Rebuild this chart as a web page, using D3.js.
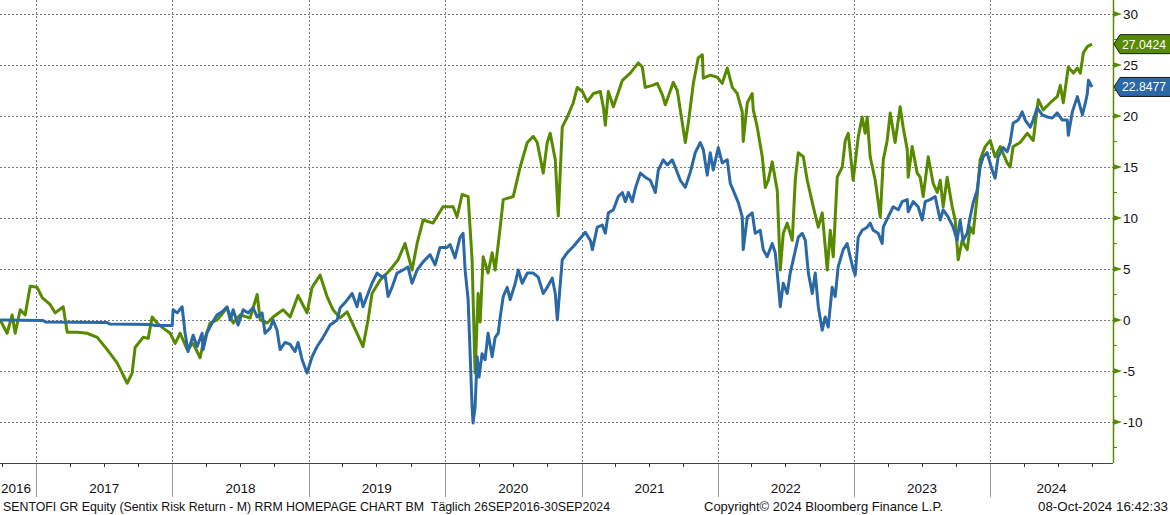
<!DOCTYPE html>
<html>
<head>
<meta charset="utf-8">
<script src="https://cdn.jsdelivr.net/npm/d3@7"></script>
<style>
  html, body { margin: 0; padding: 0; background: #fff; }
  svg { display: block; font-family: "Liberation Sans", Arial, sans-serif; }
</style>
</head>
<body>
<div id="diagram"></div>
<script>
// data: [decimal year, value]
const greenSeries = [
  [2016.736, 0.0], [2016.787, -1.3], [2016.824, 0.5], [2016.846, -1.3], [2016.883, 1.0], [2016.919, 0.5],
  [2016.956, 3.3], [2017.007, 3.2], [2017.044, 2.2], [2017.103, 1.5], [2017.140, 0.7], [2017.198, 1.3],
  [2017.228, -1.2], [2017.301, -1.2], [2017.374, -1.3], [2017.448, -1.7], [2017.521, -2.9], [2017.594, -4.2],
  [2017.668, -6.2], [2017.704, -5.2], [2017.726, -2.7], [2017.785, -1.7], [2017.822, -1.8], [2017.851, 0.3],
  [2017.888, -0.3], [2017.932, -0.8], [2017.983, -1.3], [2018.020, -2.3], [2018.057, -1.3], [2018.108, -2.9],
  [2018.152, -2.3], [2018.203, -3.7], [2018.225, -2.3], [2018.277, -0.3], [2018.328, 0.0], [2018.401, 1.2],
  [2018.446, -0.3], [2018.497, 0.5], [2018.570, 0.2], [2018.622, 2.5], [2018.644, 0.0], [2018.695, -0.3],
  [2018.739, 0.3], [2018.812, 1.0], [2018.864, 0.3], [2018.922, 2.4], [2018.988, 0.7], [2019.025, 3.2],
  [2019.084, 4.4], [2019.135, 2.3], [2019.179, 1.0], [2019.231, 0.2], [2019.282, 0.8], [2019.355, -1.3],
  [2019.399, -2.6], [2019.436, 0.0], [2019.465, 2.6], [2019.524, 3.9], [2019.597, 4.9], [2019.656, 5.9],
  [2019.707, 7.5], [2019.759, 4.9], [2019.796, 7.5], [2019.840, 9.8], [2019.913, 9.5], [2019.986, 11.1],
  [2020.060, 11.1], [2020.089, 10.1], [2020.126, 12.3], [2020.170, 12.1], [2020.199, 5.9], [2020.221, -5.2],
  [2020.243, 2.6], [2020.258, -0.2], [2020.280, 6.2], [2020.316, 4.6], [2020.346, 6.6], [2020.368, 4.9],
  [2020.405, 9.1], [2020.427, 11.8], [2020.500, 12.1], [2020.551, 15.0], [2020.603, 17.4], [2020.647, 18.0],
  [2020.676, 17.4], [2020.720, 14.4], [2020.749, 17.4], [2020.771, 18.3], [2020.808, 15.7], [2020.830, 10.2],
  [2020.859, 18.9], [2020.896, 19.9], [2020.940, 21.3], [2020.969, 22.8], [2021.006, 22.4], [2021.043, 21.4],
  [2021.087, 22.2], [2021.138, 22.4], [2021.160, 20.9], [2021.175, 19.1], [2021.197, 22.4], [2021.234, 20.9],
  [2021.300, 23.5], [2021.358, 24.2], [2021.417, 25.2], [2021.446, 24.8], [2021.468, 22.8], [2021.520, 23.0],
  [2021.556, 23.2], [2021.593, 22.1], [2021.615, 21.1], [2021.637, 21.9], [2021.674, 23.3], [2021.703, 22.5],
  [2021.725, 20.6], [2021.762, 17.4], [2021.784, 19.3], [2021.821, 23.2], [2021.857, 25.7], [2021.887, 26.0],
  [2021.894, 23.7], [2021.945, 24.0], [2021.997, 23.8], [2022.033, 23.2], [2022.070, 24.7], [2022.107, 22.8],
  [2022.143, 22.2], [2022.180, 20.4], [2022.187, 17.5], [2022.217, 21.3], [2022.253, 22.2], [2022.261, 20.6],
  [2022.290, 18.9], [2022.327, 16.0], [2022.349, 13.0], [2022.371, 13.7], [2022.400, 15.5], [2022.437, 12.7],
  [2022.459, 4.9], [2022.481, 8.5], [2022.510, 9.5], [2022.547, 7.8], [2022.569, 13.7], [2022.591, 16.4],
  [2022.628, 16.0], [2022.657, 13.7], [2022.701, 11.1], [2022.738, 9.1], [2022.767, 10.5], [2022.804, 4.9],
  [2022.826, 8.8], [2022.848, 6.2], [2022.877, 14.0], [2022.914, 15.0], [2022.936, 17.6], [2022.958, 18.3],
  [2022.994, 13.7], [2023.031, 17.9], [2023.060, 19.9], [2023.082, 18.3], [2023.097, 19.9], [2023.119, 16.0],
  [2023.156, 13.7], [2023.193, 10.1], [2023.215, 15.7], [2023.244, 17.6], [2023.266, 20.3], [2023.302, 17.4],
  [2023.339, 20.9], [2023.361, 18.9], [2023.391, 16.7], [2023.398, 14.0], [2023.427, 17.0], [2023.464, 14.4],
  [2023.486, 14.0], [2023.508, 12.1], [2023.545, 16.0], [2023.581, 13.4], [2023.611, 12.5], [2023.633, 13.7],
  [2023.655, 11.1], [2023.684, 14.0], [2023.721, 11.1], [2023.743, 9.8], [2023.765, 5.9], [2023.794, 7.8],
  [2023.831, 6.9], [2023.853, 9.1], [2023.875, 8.5], [2023.904, 12.1], [2023.926, 15.7], [2023.963, 17.0],
  [2024.000, 17.6], [2024.036, 16.0], [2024.073, 17.0], [2024.124, 15.4], [2024.146, 15.0], [2024.168, 17.0],
  [2024.219, 17.4], [2024.271, 18.3], [2024.315, 17.6], [2024.352, 21.6], [2024.388, 20.6], [2024.440, 21.3],
  [2024.491, 21.9], [2024.513, 23.0], [2024.535, 21.3], [2024.572, 24.8], [2024.609, 24.2], [2024.638, 24.7],
  [2024.660, 24.2], [2024.682, 26.2], [2024.711, 26.8], [2024.745, 27.0424]
];

const blueSeries = [
  [2016.736, 0.0], [2017.050, -0.05], [2017.070, -0.2], [2017.520, -0.25], [2017.540, -0.4], [2017.850, -0.45],
  [2017.870, -0.55], [2017.998, -0.55], [2018.005, 1.0], [2018.035, 0.7], [2018.071, 1.3], [2018.093, -1.3],
  [2018.115, -3.1], [2018.152, -1.5], [2018.181, -2.6], [2018.218, -1.3], [2018.225, -2.9], [2018.255, -1.2],
  [2018.291, -0.3], [2018.328, 0.5], [2018.365, 0.8], [2018.401, 1.3], [2018.424, 0.0], [2018.446, 1.0],
  [2018.482, -0.5], [2018.519, 1.0], [2018.556, 0.7], [2018.592, 1.2], [2018.622, 0.3], [2018.658, 0.7],
  [2018.680, -1.3], [2018.717, -0.8], [2018.739, 0.0], [2018.768, -1.0], [2018.790, -2.9], [2018.827, -2.2],
  [2018.864, -2.4], [2018.900, -3.1], [2018.922, -2.2], [2018.952, -3.9], [2018.988, -5.2], [2019.025, -3.6],
  [2019.062, -2.6], [2019.106, -1.7], [2019.157, -0.5], [2019.209, 0.0], [2019.231, 1.2], [2019.267, 1.7],
  [2019.319, 2.6], [2019.355, 1.3], [2019.377, 2.6], [2019.399, 1.3], [2019.436, 2.6], [2019.465, 3.6],
  [2019.502, 4.6], [2019.539, 4.2], [2019.561, 4.4], [2019.583, 2.3], [2019.612, 3.2], [2019.649, 4.6],
  [2019.693, 4.9], [2019.729, 5.2], [2019.759, 3.6], [2019.796, 4.9], [2019.840, 5.7], [2019.891, 6.4],
  [2019.928, 5.4], [2019.964, 7.1], [2020.016, 7.1], [2020.038, 7.4], [2020.074, 6.1], [2020.111, 8.1],
  [2020.133, 8.5], [2020.148, 4.9], [2020.170, 2.0], [2020.199, -8.5], [2020.206, -10.1], [2020.221, -8.5],
  [2020.236, -3.6], [2020.250, -5.6], [2020.272, -3.3], [2020.294, -3.9], [2020.316, -1.3], [2020.346, -3.6],
  [2020.368, -1.7], [2020.390, -1.3], [2020.405, 0.3], [2020.427, 2.3], [2020.456, 3.2], [2020.478, 2.0],
  [2020.515, 3.6], [2020.537, 4.9], [2020.566, 3.6], [2020.603, 4.6], [2020.647, 4.6], [2020.683, 4.2],
  [2020.720, 2.6], [2020.749, 3.2], [2020.786, 4.1], [2020.808, 2.6], [2020.823, 0.0], [2020.859, 5.9],
  [2020.896, 6.6], [2020.940, 7.2], [2020.977, 7.8], [2021.028, 8.6], [2021.065, 7.8], [2021.080, 6.9],
  [2021.116, 9.1], [2021.153, 9.3], [2021.175, 8.5], [2021.197, 10.5], [2021.234, 10.8], [2021.270, 12.1],
  [2021.300, 12.5], [2021.322, 11.6], [2021.344, 12.5], [2021.373, 11.6], [2021.395, 12.9], [2021.432, 14.4],
  [2021.468, 14.0], [2021.505, 13.7], [2021.542, 12.5], [2021.564, 14.7], [2021.600, 15.7], [2021.630, 15.2],
  [2021.666, 15.7], [2021.688, 15.0], [2021.725, 13.7], [2021.762, 13.0], [2021.799, 14.5], [2021.835, 16.4],
  [2021.872, 17.4], [2021.894, 16.7], [2021.923, 14.2], [2021.945, 16.4], [2021.967, 14.7], [2022.004, 16.9],
  [2022.033, 15.4], [2022.070, 15.7], [2022.092, 13.4], [2022.114, 12.7], [2022.151, 11.5], [2022.180, 10.1],
  [2022.187, 6.9], [2022.217, 10.1], [2022.253, 10.5], [2022.275, 8.5], [2022.312, 8.8], [2022.334, 6.9],
  [2022.363, 6.2], [2022.400, 7.5], [2022.422, 6.6], [2022.437, 4.6], [2022.459, 1.3], [2022.481, 3.6],
  [2022.510, 2.6], [2022.532, 4.6], [2022.554, 5.9], [2022.591, 8.1], [2022.620, 8.5], [2022.643, 7.8],
  [2022.665, 4.6], [2022.694, 2.6], [2022.716, 4.6], [2022.738, 1.3], [2022.767, -1.0], [2022.789, 0.3],
  [2022.811, -0.7], [2022.840, 3.2], [2022.862, 2.3], [2022.884, 5.2], [2022.921, 6.9], [2022.950, 7.5],
  [2022.972, 6.2], [2022.994, 5.0], [2023.009, 4.4], [2023.031, 8.1], [2023.060, 8.8], [2023.097, 9.1],
  [2023.119, 9.5], [2023.141, 8.8], [2023.178, 8.5], [2023.207, 7.5], [2023.215, 9.1], [2023.251, 10.1],
  [2023.288, 11.1], [2023.325, 10.8], [2023.354, 11.6], [2023.391, 11.8], [2023.398, 10.6], [2023.435, 11.6],
  [2023.471, 11.1], [2023.501, 9.8], [2023.523, 11.6], [2023.559, 11.8], [2023.596, 12.1], [2023.633, 9.8],
  [2023.655, 10.8], [2023.691, 10.1], [2023.728, 9.1], [2023.757, 7.8], [2023.779, 9.8], [2023.801, 7.8],
  [2023.831, 8.5], [2023.853, 10.1], [2023.875, 11.5], [2023.904, 12.7], [2023.926, 15.0], [2023.948, 16.0],
  [2023.977, 16.4], [2024.014, 14.7], [2024.036, 13.9], [2024.058, 16.0], [2024.095, 16.9], [2024.124, 16.5],
  [2024.146, 17.4], [2024.168, 19.3], [2024.205, 19.6], [2024.234, 20.4], [2024.256, 19.6], [2024.293, 18.9],
  [2024.315, 19.6], [2024.344, 20.8], [2024.381, 20.1], [2024.418, 19.9], [2024.454, 19.8], [2024.491, 20.3],
  [2024.528, 19.6], [2024.564, 19.6], [2024.572, 18.1], [2024.601, 20.4], [2024.638, 21.9], [2024.675, 20.1],
  [2024.697, 21.3], [2024.711, 22.2], [2024.719, 23.5], [2024.745, 22.8477]
];

const lastValues = [27.0424, 22.8477];
const yTickValues = [-10, -5, 0, 5, 10, 15, 20, 25, 30];
const yMinorValues = [-12.5, -7.5, -2.5, 2.5, 7.5, 12.5, 17.5, 22.5, 27.5];
const footerLabels = [
  'SENTOFI GR Equity (Sentix Risk Return - M) RRM HOMEPAGE CHART BM\u00a0\u00a0T\u00e4glich 26SEP2016-30SEP2024',
  'Copyright\u00a9 2024 Bloomberg Finance L.P.',
  '08-Oct-2024 16:42:33'
];

!(function () {
  'use strict';
  // - - - - - - - - - -
  let
    svg = undefined,
    xScale = undefined,
    yScale = undefined,
    toDate = undefined,
    setCanvas = undefined,
    setScales = undefined,
    setGrid = undefined,
    setXAxis = undefined,
    setYAxis = undefined,
    setLines = undefined,
    setValueTags = undefined,
    setFooter = undefined;

  const canvas = { width: 1170, height: 515, plotRight: 1113, plotBottom: 463 };
  const colors = { green: '#588a00', blue: '#2a68a6', grid: '#7a7a7a' };

  // decimal year -> Date
  toDate = function (t) {
    let y = Math.floor(t),
      a = Date.UTC(y, 0, 1),
      b = Date.UTC(y + 1, 0, 1);
    return new Date(a + (t - y) * (b - a));
  };

  setCanvas = function (contextSelector) {
    svg = d3.select(contextSelector)
      .append('svg')
      .attr('width', canvas.width)
      .attr('height', canvas.height);
  };

  setScales = function () {
    xScale = d3.scaleUtc()
      .domain([new Date(Date.UTC(2016, 8, 26)), new Date(Date.UTC(2024, 10, 25))])
      .range([0, canvas.plotRight]);
    yScale = d3.scaleLinear()
      .domain([-14.02, 31.37])
      .range([canvas.plotBottom, 0]);
  };

  setGrid = function () {
    let g = svg.append('g')
      .attr('stroke', colors.grid)
      .attr('stroke-dasharray', '2,2')
      .attr('stroke-width', 1);

    g.selectAll('line.h')
      .data(yTickValues)
      .join('line')
      .attr('class', 'h')
      .attr('x1', 0)
      .attr('x2', canvas.plotRight)
      .attr('y1', d => Math.round(yScale(d)) + 0.5)
      .attr('y2', d => Math.round(yScale(d)) + 0.5);

    g.selectAll('line.v')
      .data(xScale.ticks(d3.utcYear.every(1)))
      .join('line')
      .attr('class', 'v')
      .attr('x1', d => Math.round(xScale(d)) + 0.5)
      .attr('x2', d => Math.round(xScale(d)) + 0.5)
      .attr('y1', 0)
      .attr('y2', canvas.plotBottom);
  };

  setXAxis = function () {
    let g = svg.append('g'),
      years = xScale.ticks(d3.utcYear.every(1)),
      quarters = d3.utcMonth.every(3).range(xScale.domain()[0], xScale.domain()[1]),
      bounds = [xScale.domain()[0]].concat(years, [xScale.domain()[1]]);

    g.selectAll('line.q')
      .data(quarters)
      .join('line')
      .attr('class', 'q')
      .attr('x1', d => Math.round(xScale(d)) + 0.5)
      .attr('x2', d => Math.round(xScale(d)) + 0.5)
      .attr('y1', canvas.plotBottom)
      .attr('y2', canvas.plotBottom + 4)
      .attr('stroke', '#333');

    g.selectAll('line.y')
      .data(years)
      .join('line')
      .attr('class', 'y')
      .attr('x1', d => Math.round(xScale(d)) + 0.5)
      .attr('x2', d => Math.round(xScale(d)) + 0.5)
      .attr('y1', canvas.plotBottom)
      .attr('y2', canvas.plotBottom + 34)
      .attr('stroke', '#9a9a9a');

    g.append('line')
      .attr('x1', 0)
      .attr('x2', canvas.plotRight)
      .attr('y1', canvas.plotBottom + 0.5)
      .attr('y2', canvas.plotBottom + 0.5)
      .attr('stroke', '#444');

    // year labels centred in the visible part of each year
    g.selectAll('text')
      .data(bounds.slice(0, -1))
      .join('text')
      .attr('x', (d, i) => i === 0 ? 1 : (xScale(d) + Math.min(xScale(bounds[i + 1]), canvas.plotRight)) / 2)
      .attr('y', 493)
      .attr('text-anchor', (d, i) => i === 0 ? 'start' : 'middle')
      .attr('font-size', 13.5)
      .attr('fill', '#111')
      .text(d => d.getUTCFullYear());
  };

  setYAxis = function () {
    let g = svg.append('g'),
      tx = canvas.plotRight;

    g.append('line')
      .attr('x1', tx + 0.5)
      .attr('x2', tx + 0.5)
      .attr('y1', 0)
      .attr('y2', canvas.plotBottom)
      .attr('stroke', colors.green)
      .attr('stroke-width', 1.5);

    g.selectAll('line.minor')
      .data(yMinorValues)
      .join('line')
      .attr('class', 'minor')
      .attr('x1', tx)
      .attr('x2', tx + 4)
      .attr('y1', d => Math.round(yScale(d)) + 0.5)
      .attr('y2', d => Math.round(yScale(d)) + 0.5)
      .attr('stroke', colors.green);

    g.selectAll('path.major')
      .data(yTickValues)
      .join('path')
      .attr('class', 'major')
      .attr('d', d => {
        let y = yScale(d);
        return 'M' + tx + ',' + (y - 3) + 'L' + (tx + 9) + ',' + y + 'L' + tx + ',' + (y + 3) + 'Z';
      })
      .attr('fill', colors.green);

    g.selectAll('text')
      .data(yTickValues)
      .join('text')
      .attr('x', tx + 10)
      .attr('y', d => yScale(d))
      .attr('dy', '0.36em')
      .attr('font-size', 13.5)
      .attr('fill', '#111')
      .text(d => d);
  };

  setLines = function () {
    let line = d3.line()
      .x(d => xScale(toDate(d[0])))
      .y(d => yScale(d[1]));

    [[greenSeries, colors.green], [blueSeries, colors.blue]].forEach(s => {
      svg.append('path')
        .datum(s[0])
        .attr('d', line)
        .attr('fill', 'none')
        .attr('stroke', s[1])
        .attr('stroke-width', 3)
        .attr('stroke-linejoin', 'round');
    });
  };

  setValueTags = function () {
    let g = svg.append('g'),
      tx = canvas.plotRight + 1,
      tagColors = [colors.green, colors.blue];

    g.selectAll('path')
      .data(lastValues)
      .join('path')
      .attr('d', d => {
        let y = yScale(d);
        return 'M' + tx + ',' + y + 'L' + (tx + 6) + ',' + (y - 9.5) + 'L' + (canvas.width + 2) + ',' + (y - 9.5) +
          'L' + (canvas.width + 2) + ',' + (y + 9.5) + 'L' + (tx + 6) + ',' + (y + 9.5) + 'Z';
      })
      .attr('fill', (d, i) => tagColors[i])
      .attr('stroke', '#1a1a1a')
      .attr('stroke-width', 1);

    g.selectAll('text')
      .data(lastValues)
      .join('text')
      .attr('x', tx + 8)
      .attr('y', d => yScale(d))
      .attr('dy', '0.36em')
      .attr('font-size', 12.5)
      .attr('fill', '#fff')
      .attr('textLength', 44)
      .attr('lengthAdjust', 'spacingAndGlyphs')
      .text(d => d.toFixed(4));
  };

  setFooter = function () {
    let pos = [[3, 607], [704, 239], [1038, 130]];
    svg.selectAll('text.footer')
      .data(footerLabels)
      .join('text')
      .attr('class', 'footer')
      .attr('x', (d, i) => pos[i][0])
      .attr('y', 511)
      .attr('font-size', 13)
      .attr('fill', '#111')
      .attr('textLength', (d, i) => pos[i][1])
      .attr('lengthAdjust', 'spacingAndGlyphs')
      .text(d => d);
  };

  // control
  setCanvas('#diagram');
  setScales();
  setGrid();
  setXAxis();
  setLines();
  setYAxis();
  setValueTags();
  setFooter();
  // - - - - - - - - - -
}());
</script>
</body>
</html>
